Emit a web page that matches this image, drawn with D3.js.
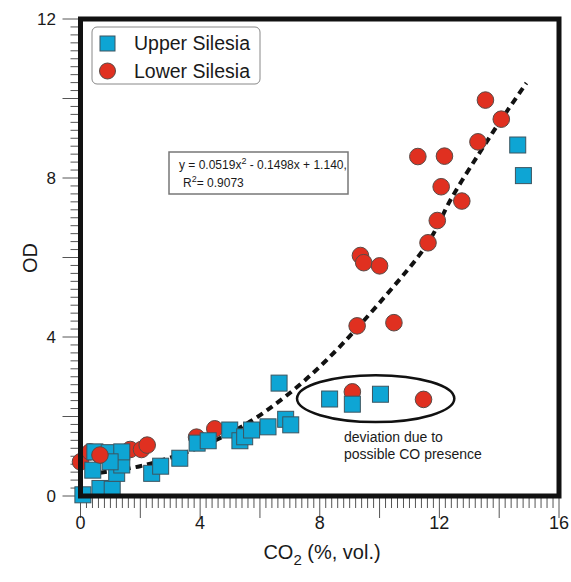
<!DOCTYPE html>
<html>
<head>
<meta charset="utf-8">
<script src="https://cdn.jsdelivr.net/npm/d3@7"></script>
<style>
  body { margin: 0; background: #fff; }
  text { font-family: "Liberation Sans", Arial, sans-serif; fill: #1a1a1a; }
</style>
</head>
<body>
<div id="my_dataviz"></div>
<script>
// Upper Silesia (squares)
var upperCO2 = [0.08, 0.65, 1.06, 0.41, 1.21, 1.38, 0.48, 0.96, 1.38, 0.99, 2.38, 2.68, 3.32, 3.90, 4.27,
                4.99, 5.33, 5.49, 5.72, 6.27, 6.86, 7.03, 6.64, 8.33, 9.09, 10.03, 14.62, 14.81];
var upperOD  = [0.03, 0.19, 0.17, 0.65, 0.57, 0.78, 1.11, 1.09, 1.11, 0.86, 0.57, 0.75, 0.95, 1.33, 1.39,
                1.66, 1.39, 1.49, 1.66, 1.74, 1.93, 1.79, 2.84, 2.44, 2.31, 2.56, 8.83, 8.06];
// Lower Silesia (circles)
var lowerCO2 = [0.0, 0.32, 0.65, 1.66, 2.04, 2.23, 3.88, 4.49, 9.09, 11.47, 9.36, 9.47, 10.0, 9.25, 10.48,
                11.62, 11.93, 12.75, 12.06, 11.28, 12.17, 13.29, 13.54, 14.07];
var lowerOD  = [0.86, 1.11, 1.03, 1.17, 1.17, 1.28, 1.48, 1.69, 2.62, 2.43, 6.05, 5.87, 5.79, 4.28, 4.36,
                6.37, 6.93, 7.42, 7.78, 8.54, 8.55, 8.91, 9.96, 9.48];
// dashed fit line
var fitCO2 = [0.25, 1.99, 3.99, 5.49, 6.83, 8.23, 10.17, 11.61, 12.41, 13.34, 14.08, 14.91];
var fitOD  = [0.55, 0.75, 1.23, 1.79, 2.49, 3.42, 5.01, 6.36, 7.50, 8.63, 9.48, 10.39];
var xTicks = [0, 4, 8, 12, 16];
var yTicks = [0, 4, 8, 12];

var width = 571, height = 582;
var plotLeft = 80.5, plotRight = 559, plotTop = 19, plotBottom = 496;

var svg = d3.select("#my_dataviz")
    .append("svg")
    .attr("width", width)
    .attr("height", height);

var x = d3.scaleLinear().domain([0, 16]).range([plotLeft, plotRight]);
var y = d3.scaleLinear().domain([0, 12]).range([plotBottom, plotTop]);

// minor + major ticks (every 0.2, long every 2)
var xAll = d3.range(0, 80.5).map(function(i) { return i * 0.2; });
var yAll = d3.range(0, 60.5).map(function(i) { return i * 0.2; });

svg.append("g").selectAll("line")
    .data(xAll).enter().append("line")
    .attr("x1", function(d) { return x(d); })
    .attr("x2", function(d) { return x(d); })
    .attr("y1", plotBottom + 2)
    .attr("y2", function(d, i) { return i % 10 == 0 ? plotBottom + 22 : plotBottom + 12; })
    .attr("stroke", "#555").attr("stroke-width", 1);

svg.append("g").selectAll("line")
    .data(yAll).enter().append("line")
    .attr("y1", function(d) { return y(d); })
    .attr("y2", function(d) { return y(d); })
    .attr("x1", plotLeft - 2)
    .attr("x2", function(d, i) { return i % 10 == 0 ? plotLeft - 18 : plotLeft - 10; })
    .attr("stroke", "#555").attr("stroke-width", 1);

svg.append("g").selectAll("text")
    .data(xTicks).enter().append("text")
    .attr("x", function(d) { return x(d); })
    .attr("y", 529)
    .attr("text-anchor", "middle")
    .style("font-size", "18px")
    .text(function(d) { return d; });

svg.append("g").selectAll("text")
    .data(yTicks).enter().append("text")
    .attr("x", 56)
    .attr("y", function(d) { return y(d) + 6; })
    .attr("text-anchor", "end")
    .style("font-size", "17px")
    .text(function(d) { return d; });

// axis titles
var xt = svg.append("text")
    .attr("x", 322).attr("y", 559)
    .attr("text-anchor", "middle")
    .style("font-size", "20px");
xt.append("tspan").text("CO");
xt.append("tspan").text("2").attr("dy", 6).style("font-size", "15px");
xt.append("tspan").text(" (%, vol.)").attr("dy", -6);

svg.append("text")
    .attr("transform", "translate(37,258) rotate(-90)")
    .attr("text-anchor", "middle")
    .style("font-size", "20px")
    .text("OD");

// fit curve
var fit = fitCO2.map(function(d, i) { return [d, fitOD[i]]; });
svg.append("path")
    .datum(fit)
    .attr("d", d3.line()
        .x(function(d) { return x(d[0]); })
        .y(function(d) { return y(d[1]); })
        .curve(d3.curveCatmullRom))
    .attr("fill", "none")
    .attr("stroke", "#111")
    .attr("stroke-width", 4)
    .attr("stroke-dasharray", "7,5");

// ellipse around deviating points
svg.append("ellipse")
    .attr("cx", x(9.87)).attr("cy", y(2.45))
    .attr("rx", x(9.87 + 2.63) - x(9.87))
    .attr("ry", y(2.45) - y(2.45 + 0.59))
    .attr("fill", "none").attr("stroke", "#111").attr("stroke-width", 2.5);

svg.append("text").attr("x", 344).attr("y", 442).style("font-size", "14px").text("deviation due to");
svg.append("text").attr("x", 344).attr("y", 459).style("font-size", "14px").text("possible CO presence");

// markers
var lower = lowerCO2.map(function(d, i) { return { co2: d, od: lowerOD[i] }; });
var upper = upperCO2.map(function(d, i) { return { co2: d, od: upperOD[i] }; });

svg.append("g").selectAll("circle")
    .data(lower).enter().append("circle")
    .attr("cx", function(d) { return x(d.co2); })
    .attr("cy", function(d) { return y(d.od); })
    .attr("r", 8.3)
    .attr("fill", "#e03020")
    .attr("stroke", "#5a4a46").attr("stroke-width", 1);

svg.append("g").selectAll("rect")
    .data(upper).enter().append("rect")
    .attr("x", function(d) { return x(d.co2) - 8; })
    .attr("y", function(d) { return y(d.od) - 8; })
    .attr("width", 16).attr("height", 16)
    .attr("fill", "#0ea5d4")
    .attr("stroke", "#3c5560").attr("stroke-width", 1);

// one circle sits above the squares
svg.append("circle")
    .attr("cx", x(lowerCO2[2])).attr("cy", y(lowerOD[2]))
    .attr("r", 8.3)
    .attr("fill", "#e03020")
    .attr("stroke", "#5a4a46").attr("stroke-width", 1);

// frame
svg.append("rect")
    .attr("x", plotLeft).attr("y", plotTop)
    .attr("width", plotRight - plotLeft).attr("height", plotBottom - plotTop)
    .attr("fill", "none").attr("stroke", "#111").attr("stroke-width", 5);

// equation box
svg.append("rect")
    .attr("x", 169).attr("y", 152).attr("width", 179).attr("height", 42)
    .attr("fill", "#fff").attr("stroke", "#777").attr("stroke-width", 1.5);
var eq = svg.append("text").attr("x", 179).attr("y", 169).style("font-size", "12px");
eq.append("tspan").text("y = 0.0519x");
eq.append("tspan").text("2").attr("dy", -5).style("font-size", "9px");
eq.append("tspan").text(" - 0.1498x + 1.140,").attr("dy", 5);
var r2 = svg.append("text").attr("x", 183).attr("y", 187).style("font-size", "12px");
r2.append("tspan").text("R");
r2.append("tspan").text("2").attr("dy", -5).style("font-size", "9px");
r2.append("tspan").text("= 0.9073").attr("dy", 5);

// legend
var legend = svg.append("g");
legend.append("rect")
    .attr("x", 92).attr("y", 27).attr("width", 168).attr("height", 57).attr("rx", 5)
    .attr("fill", "#fff").attr("stroke", "#888").attr("stroke-width", 1);
legend.append("rect")
    .attr("x", 100).attr("y", 36).attr("width", 15).attr("height", 15)
    .attr("fill", "#0ea5d4").attr("stroke", "#3c5560").attr("stroke-width", 1);
legend.append("circle")
    .attr("cx", 107.5).attr("cy", 71).attr("r", 8)
    .attr("fill", "#e03020").attr("stroke", "#5a4a46").attr("stroke-width", 1);
legend.append("text").attr("x", 134).attr("y", 50).style("font-size", "19.5px").text("Upper Silesia");
legend.append("text").attr("x", 134).attr("y", 78).style("font-size", "19.5px").text("Lower Silesia");
</script>
</body>
</html>
